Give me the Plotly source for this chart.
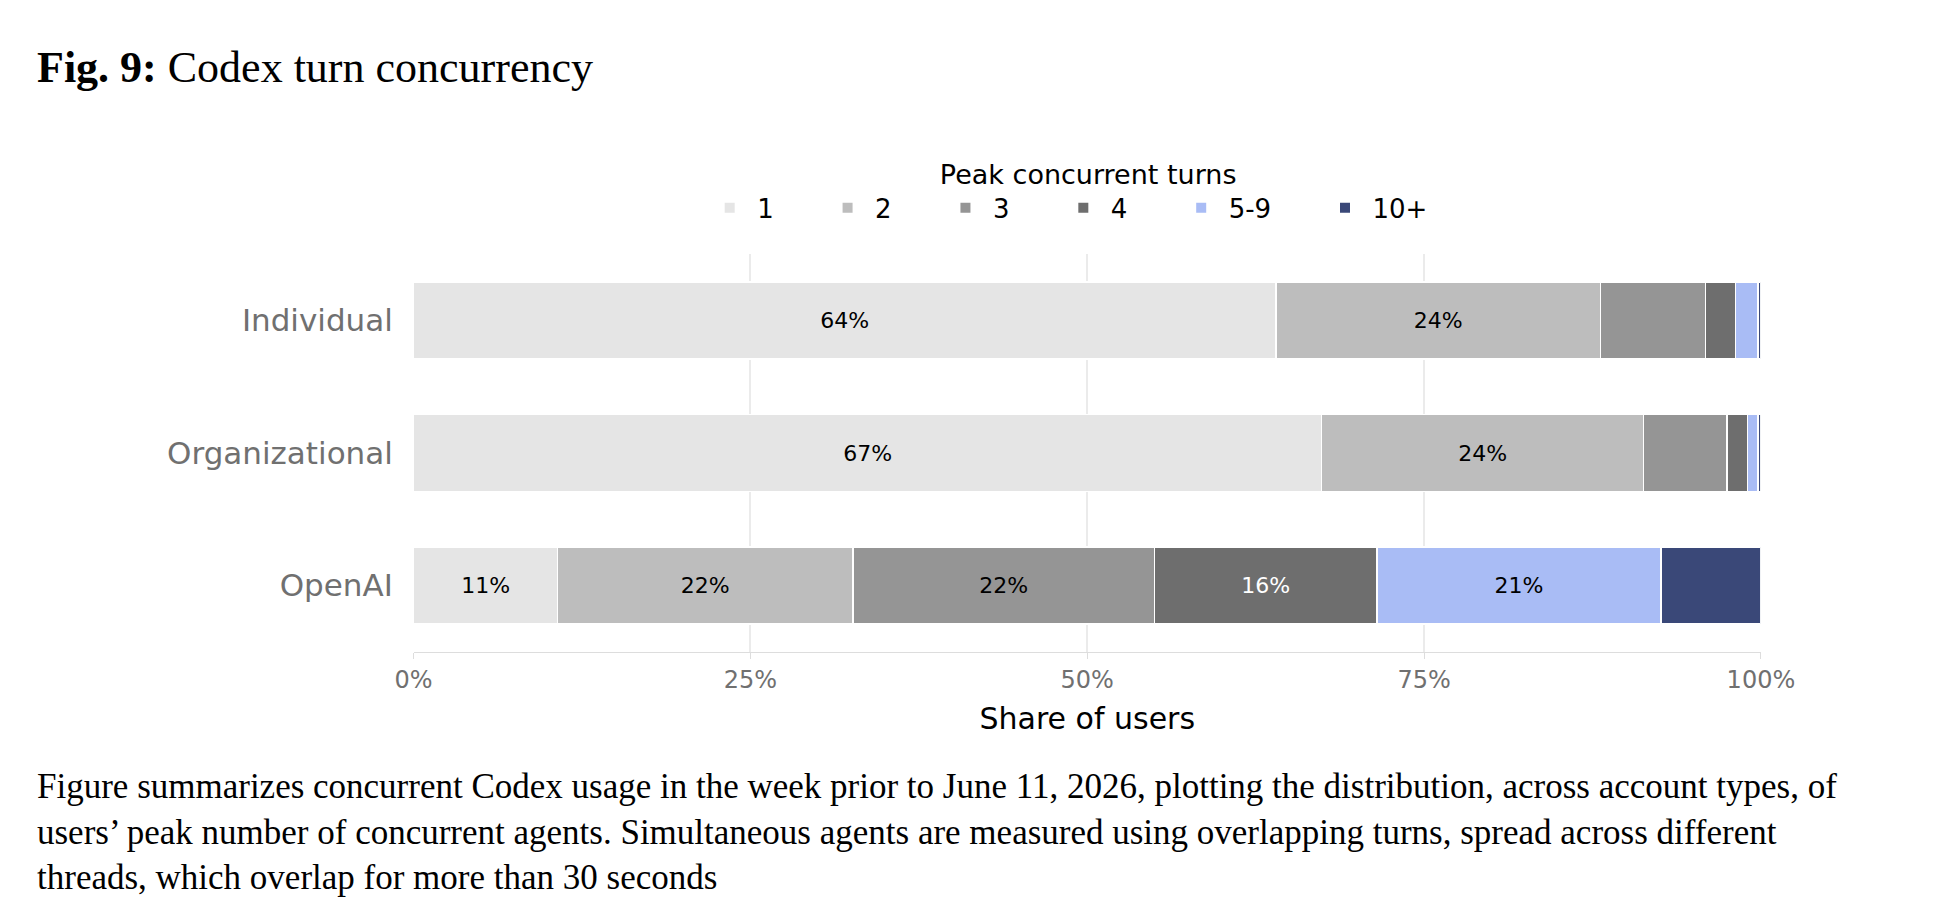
import plotly.graph_objects as go

accounts = ["Individual", "Organizational", "OpenAI"]
buckets = ["1", "2", "3", "4", "5-9", "10+"]
shares = {
    "1":   [64.0, 67.4, 10.7],
    "2":   [24.1, 23.9, 21.9],
    "3":   [7.8, 6.2, 22.4],
    "4":   [2.2, 1.5, 16.5],
    "5-9": [1.7, 0.8, 21.1],
    "10+": [0.2, 0.2, 7.4],
}
colors = ["#e5e5e5", "#bdbdbd", "#959595", "#6e6e6e", "#a9bcf5", "#3a4878"]
text_colors = ["black", "black", "black", "white", "black", "white"]

fig = go.Figure()
for b, c, tc in zip(buckets, colors, text_colors):
    vals = shares[b]
    fig.add_trace(go.Bar(
        y=accounts, x=vals, name=b + "     ", orientation="h",
        marker=dict(color=c, line=dict(color="white", width=1.5)),
        text=[f"{v:.0f}%" if v >= 10 else "" for v in vals],
        textposition="inside", insidetextanchor="middle",
        textfont=dict(color=tc, size=22, family="DejaVu Sans"),
        width=0.58,
    ))

fig.update_layout(
    width=1948, height=912, barmode="stack",
    plot_bgcolor="white", paper_bgcolor="white",
    margin=dict(l=0, r=0, t=0, b=0),
    font=dict(family="DejaVu Sans", color="black"),
    xaxis=dict(domain=[0.204, 0.915], range=[0, 100], tickvals=[0, 25, 50, 75, 100],
               ticktext=["0%", "25%", "50%", "75%", "100%"], showgrid=True,
               gridcolor="#ebebeb", gridwidth=2, zeroline=False, ticks="outside",
               ticklen=6, tickcolor="#dddddd", showline=True, linecolor="#dddddd",
               tickfont=dict(size=24, color="#707070"),
               title=dict(text="Share of users", font=dict(size=30, color="black"))),
    yaxis=dict(domain=[0.294, 0.73], autorange="reversed", showgrid=False,
               tickfont=dict(size=31, color="#707070"), ticksuffix="  "),
    legend=dict(orientation="h", x=0.56, xanchor="center", y=0.845, yanchor="top",
                title=dict(text="Peak concurrent turns", side="top center",
                           font=dict(size=27, color="black")),
                font=dict(size=26, color="black"), traceorder="normal",
                itemwidth=45, itemsizing="constant"),
    annotations=[
        dict(text="<b>Fig. 9:</b> Codex turn concurrency", x=0.004, y=0.935,
             xref="paper", yref="paper", xanchor="left", yanchor="middle",
             showarrow=False, font=dict(family="Liberation Serif", size=44, color="black")),
        dict(text="Figure summarizes concurrent Codex usage in the week prior to June 11, 2026, plotting the distribution, across account types, of<br>"
                  "users’ peak number of concurrent agents. Simultaneous agents are measured using overlapping turns, spread across different<br>"
                  "threads, which overlap for more than 30 seconds",
             x=0.004, y=0.17, xref="paper", yref="paper", xanchor="left", yanchor="top",
             align="left", showarrow=False,
             font=dict(family="Liberation Serif", size=35, color="black")),
    ],
)
fig.write_html("out.html")
